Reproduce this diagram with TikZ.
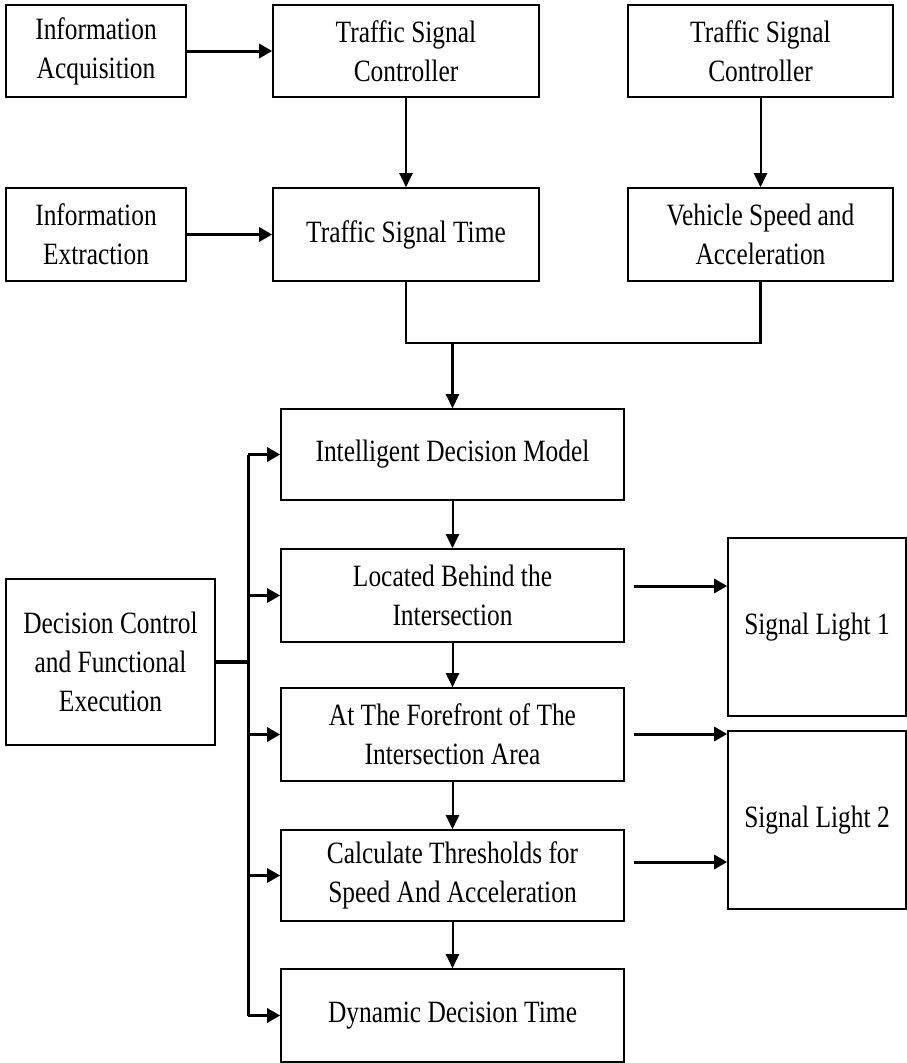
\documentclass[tikz,border=0pt]{standalone}
\usepackage{fontspec}
\setmainfont{Liberation Serif}[FakeStretch=0.82]
\usetikzlibrary{arrows.meta}
\begin{document}
\begin{tikzpicture}[x=1pt,y=-1pt,
  box/.style={draw, line width=1.6pt, inner sep=0pt, align=center,
    font=\fontsize{31}{39}\selectfont},
  arr/.style={line width=2pt, -{Triangle[length=14pt,width=13pt]}},
  tharr/.style={line width=3pt, -{Triangle[length=13pt,width=14pt]}},
  bus/.style={line width=3pt},
  joinline/.style={line width=2.5pt}]
\useasboundingbox (0,0) rectangle (907,1063);
% top rows
\node[box, minimum width=180pt, minimum height=92pt] (ia) at (96,51) {Information\\Acquisition};
\node[box, minimum width=266pt, minimum height=92pt] (tsc1) at (406,51) {Traffic Signal\\Controller};
\node[box, minimum width=265pt, minimum height=92pt] (tsc2) at (760.5,51) {Traffic Signal\\Controller};
\node[box, minimum width=180pt, minimum height=93pt] (ie) at (96,234.5) {Information\\Extraction};
\node[box, minimum width=266pt, minimum height=93pt] (tst) at (406,234.5) {Traffic Signal Time};
\node[box, minimum width=265pt, minimum height=93pt] (vsa) at (760.5,234.5) {Vehicle Speed and\\Acceleration};
% middle column
\node[box, minimum width=343pt, minimum height=91pt] (idm) at (452.5,454.5) {Intelligent Decision Model};
\node[box, minimum width=343pt, minimum height=93pt] (lbi) at (452.5,595.5) {Located Behind the\\Intersection};
\node[box, minimum width=343pt, minimum height=93pt] (fia) at (452.5,734.5) {At The Forefront of The\\Intersection Area};
\node[box, minimum width=343pt, minimum height=91pt] (ct) at (452.5,875.5) {Calculate Thresholds for\\Speed And Acceleration};
\node[box, minimum width=343pt, minimum height=93pt] (ddt) at (452.5,1015.5) {Dynamic Decision Time};
% left and right
\node[box, minimum width=209pt, minimum height=166pt] (dcf) at (110.5,662) {Decision Control\\and Functional\\Execution};
\node[box, minimum width=178pt, minimum height=178pt] (sl1) at (817,627) {Signal Light 1};
\node[box, minimum width=178pt, minimum height=178pt] (sl2) at (817,820) {Signal Light 2};
% top connectors
\draw[tharr] (ia.east) -- (tsc1.west);
\draw[tharr] (ie.east) -- (tst.west);
\draw[arr] (tsc1.south) -- (tst.north);
\draw[arr] (tsc2.south) -- (vsa.north);
\coordinate (m) at (452.5,343);
\draw[joinline, line join=miter] (tst.south) -- (tst.south |- m) -- (vsa.south |- m) -- (vsa.south);
\draw[arr, line width=2.5pt] (m) -- (idm.north);
% column connectors
\draw[arr] (idm.south) -- (lbi.north);
\draw[arr] (lbi.south) -- (fia.north);
\draw[arr] (fia.south) -- (ct.north);
\draw[arr] (ct.south) -- (ddt.north);
% bus
\coordinate (bx) at (248,0);
\draw[bus] (bx |- idm.west) -- (bx |- ddt.west);
\draw[bus, line width=3.5pt] (dcf.east) -- (bx |- dcf.east);
\foreach \n in {idm,lbi,fia,ct,ddt}
  \draw[tharr] (bx |- \n.west) -- (\n.west);
% to signal lights
\coordinate (a1) at (634,586);
\coordinate (a2) at (634,734);
\coordinate (a3) at (634,862);
\draw[tharr] (a1) -- (a1 -| sl1.west);
\draw[tharr] (a2) -- (a2 -| sl2.west);
\draw[tharr] (a3) -- (a3 -| sl2.west);
\end{tikzpicture}
\end{document}
